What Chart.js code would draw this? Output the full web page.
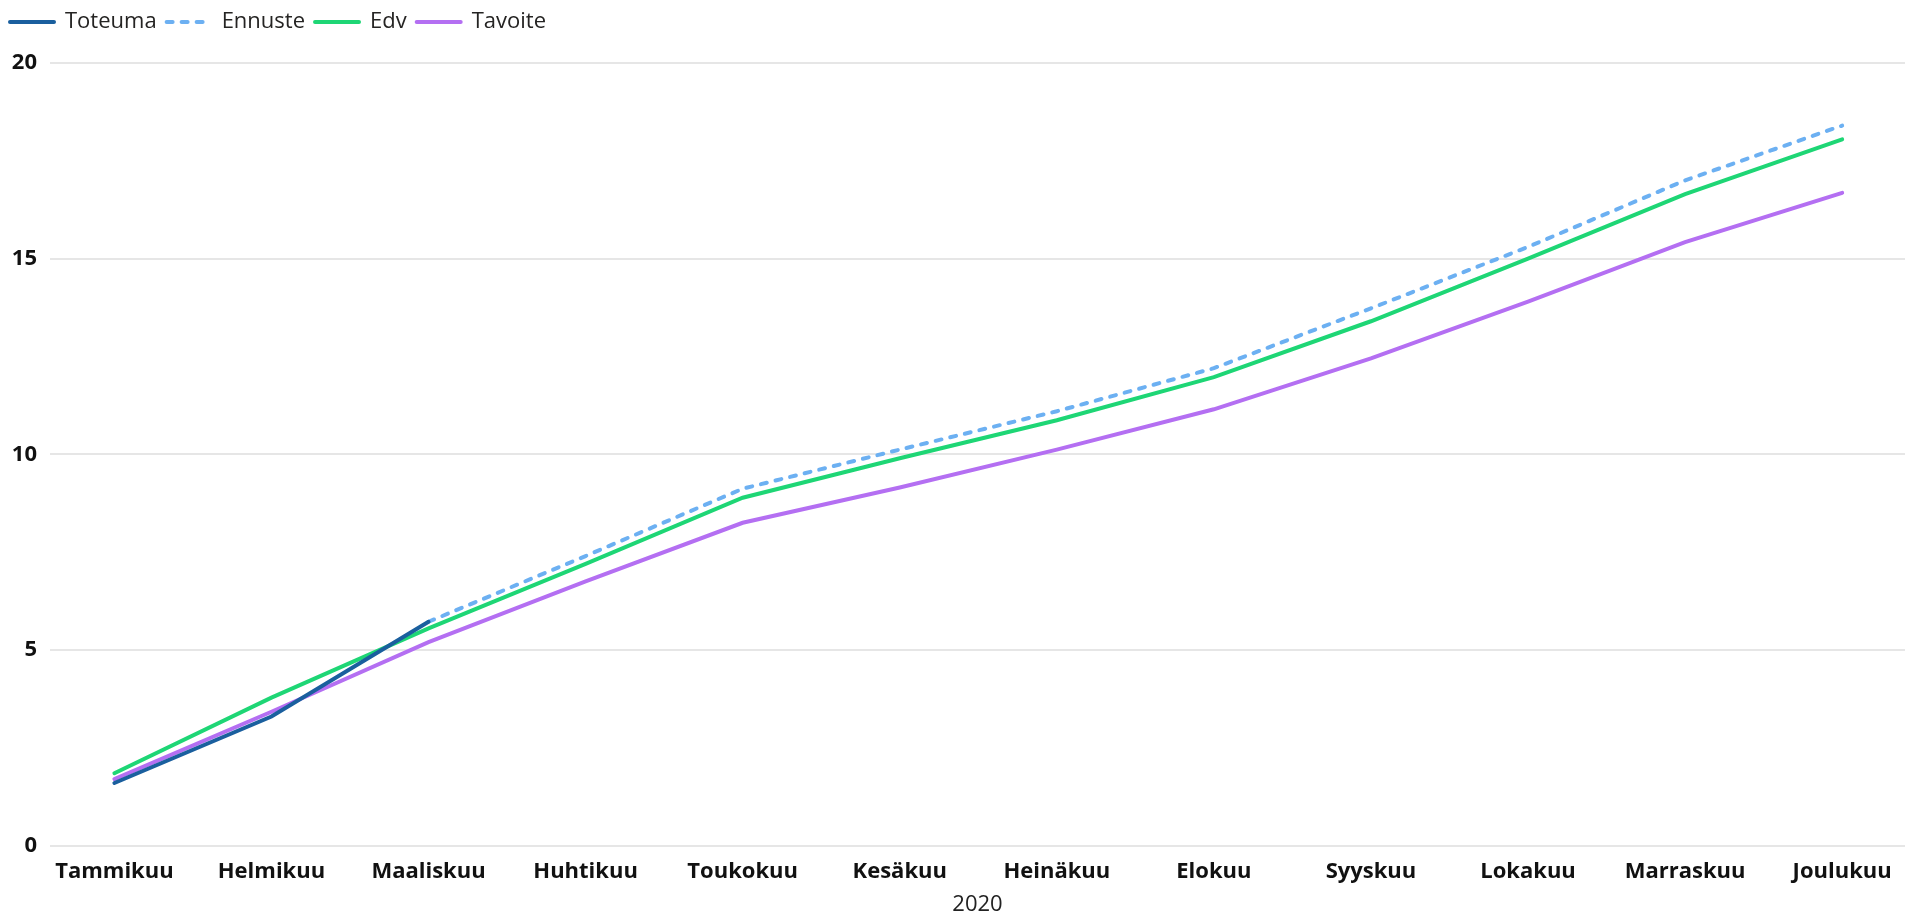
<!DOCTYPE html>
<html>
<head>
<meta charset="utf-8">
<script src="https://cdn.jsdelivr.net/npm/chart.js@4"></script>
<style>
    html, body { margin: 0; padding: 0; background: #fff; }
    #wrap { width: 1905px; height: 919px; }
</style>
</head>
<body>
<div id="wrap"><canvas id="salesChart"></canvas></div>
<script>
// Months (tick labels)
const months = ['Tammikuu', 'Helmikuu', 'Maaliskuu', 'Huhtikuu', 'Toukokuu', 'Kesäkuu',
    'Heinäkuu', 'Elokuu', 'Syyskuu', 'Lokakuu', 'Marraskuu', 'Joulukuu'];

// Series values
const toteuma = [1.6, 3.3, 5.72, null, null, null, null, null, null, null, null, null];
const ennuste = [null, null, 5.72, 7.4, 9.12, 10.12, 11.1, 12.2, 13.73, 15.3, 17.0, 18.4];
const edv = [1.85, 3.78, 5.55, 7.2, 8.89, 9.9, 10.87, 11.97, 13.4, 15.0, 16.65, 18.05];
const tavoite = [1.7, 3.42, 5.2, 6.75, 8.25, 9.15, 10.12, 11.15, 12.45, 13.9, 15.42, 16.68];

const yTicks = [0, 5, 10, 15, 20];

// Turn a list of values into {x, y} points along the month index
function toPoints(values) {
    return values.map((v, i) => ({ x: i, y: v }));
}

const fontFamily = '"Segoe UI", "Open Sans", "Noto Sans", sans-serif';

function makeDataset(label, values, color, dash) {
    return {
        label: label,
        data: toPoints(values),
        borderColor: color,
        backgroundColor: color,
        borderWidth: 4,
        borderDash: dash || [],
        pointRadius: 0,
        tension: 0,
        spanGaps: false,
        borderCapStyle: 'round'
    };
}

// Extra room under the legend
const legendMargin = {
    id: 'legendMargin',
    beforeInit(chart) {
        const fit = chart.legend.fit;
        chart.legend.fit = function() {
            fit.bind(chart.legend)();
            this.height += 20;
        };
    }
};

const ctx = document.getElementById('salesChart').getContext('2d');

new Chart(ctx, {
    type: 'line',
    data: {
        datasets: [
            makeDataset('Toteuma', toteuma, '#1a5f9e'),
            makeDataset('Ennuste', ennuste, '#6cb0f2', [6, 9]),
            makeDataset('Edv', edv, '#1ed675'),
            makeDataset('Tavoite', tavoite, '#b46ff2')
        ]
    },
    options: {
        responsive: true,
        maintainAspectRatio: false,
        animation: false,
        layout: {
            padding: { top: 1, left: 0, right: 0, bottom: 3 }
        },
        scales: {
            x: {
                type: 'linear',
                min: -0.41,
                max: 11.4,
                grid: { display: false },
                border: { display: false },
                afterBuildTicks: function(axis) {
                    axis.ticks = months.map((m, i) => ({ value: i }));
                },
                ticks: {
                    autoSkip: false,
                    maxRotation: 0,
                    padding: 5,
                    color: '#111',
                    font: { family: fontFamily, size: 22, weight: 'bold' },
                    callback: function(value) {
                        return months[value] || '';
                    }
                },
                title: {
                    display: true,
                    text: '2020',
                    color: '#222',
                    padding: { top: 4, bottom: 0 },
                    font: { family: fontFamily, size: 22, lineHeight: 1 }
                }
            },
            y: {
                min: 0,
                max: 20,
                afterBuildTicks: function(axis) {
                    axis.ticks = yTicks.map(v => ({ value: v }));
                },
                afterFit: function(axis) {
                    axis.width = 50;
                },
                grid: {
                    color: '#e6e6e6',
                    lineWidth: 2,
                    drawTicks: false
                },
                border: { display: false },
                ticks: {
                    padding: 13,
                    color: '#111',
                    font: { family: fontFamily, size: 22, weight: 'bold' }
                }
            }
        },
        plugins: {
            legend: {
                position: 'top',
                align: 'start',
                labels: {
                    usePointStyle: true,
                    pointStyle: 'line',
                    pointStyleWidth: 44,
                    boxHeight: 22,
                    padding: 10,
                    color: '#252423',
                    font: { family: fontFamily, size: 22 },
                    // keep the dash of each series in its legend sample
                    generateLabels: function(chart) {
                        const items = Chart.defaults.plugins.legend.labels.generateLabels(chart);
                        items.forEach(item => {
                            const ds = chart.data.datasets[item.datasetIndex];
                            item.lineDash = ds.borderDash;
                            item.lineCap = 'round';
                            item.strokeStyle = ds.borderColor;
                            item.lineWidth = ds.borderWidth;
                        });
                        return items;
                    }
                }
            },
            tooltip: { enabled: false }
        }
    },
    plugins: [legendMargin]
});
</script>
</body>
</html>
